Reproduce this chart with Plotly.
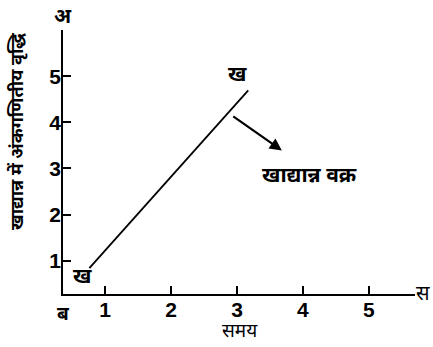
import plotly.graph_objects as go

# Food-grain growth line (time vs arithmetic increase)
time_pts = [0.76, 3.17]
grain_pts = [0.84, 4.69]
tick_vals = [1, 2, 3, 4, 5]

DEV = "Noto Sans Devanagari, Lohit Devanagari, Mukta, sans-serif"
NUM = "Liberation Sans, Arial, sans-serif"

fig = go.Figure()
fig.add_trace(go.Scatter(
    x=time_pts, y=grain_pts, mode="lines",
    line=dict(color="black", width=1.8),
    showlegend=False, hoverinfo="skip",
))

ann = []
def txt(x, y, s, size=20, angle=0, ref="x", weight="bold"):
    ann.append(dict(x=x, y=y, xref="x" if ref == "x" else "paper",
                    yref="y" if ref == "x" else "paper",
                    xanchor="center", yanchor="middle",
                    text=s, showarrow=False, textangle=angle,
                    font=dict(family=DEV, size=size, color="black", weight=weight)))

# point labels on the line
txt(3.0, 5.0, "ख", 21)
txt(0.65, 0.63, "ख", 21)
txt(4.1, 2.81, "खाद्यान्न वक्र", 21)
# axis end letters and titles (paper space, outside the plotting area)
txt(0.0, 1.045, "अ", 20, ref="p")
txt(0.0, -0.08, "ब", 19, ref="p")
txt(1.023, -0.004, "स", 20, ref="p", weight="normal")
txt(0.503, -0.145, "समय", 19, ref="p", weight="normal")
txt(-0.128, 0.617, "खाद्यान्न में अंकगणितीय वृद्धि", 18, angle=-90, ref="p")

# arrow pointing at the curve label
ann.append(dict(x=3.68, y=3.39, ax=2.92, ay=4.15, xref="x", yref="y",
                axref="x", ayref="y", text="", showarrow=True,
                arrowhead=2, arrowsize=1.1, arrowwidth=2.2, arrowcolor="black"))

fig.update_layout(
    width=433, height=347,
    margin=dict(l=63, r=18, t=30, b=53),
    paper_bgcolor="white", plot_bgcolor="white",
    annotations=ann,
    xaxis=dict(range=[0.36, 5.7], showgrid=False, zeroline=False,
               showline=True, linecolor="black", linewidth=1.6,
               ticks="inside", ticklen=8, tickwidth=1.5, tickcolor="black",
               tickvals=tick_vals, ticklabelstandoff=-4,
               tickfont=dict(family=NUM, size=21, color="black", weight="bold")),
    yaxis=dict(range=[0.28, 6.0], showgrid=False, zeroline=False,
               showline=True, linecolor="black", linewidth=1.6,
               ticks="inside", ticklen=8, tickwidth=1.5, tickcolor="black",
               tickvals=tick_vals, ticklabelstandoff=-4,
               tickfont=dict(family=NUM, size=21, color="black", weight="bold")),
)

fig.write_html("out.html")
